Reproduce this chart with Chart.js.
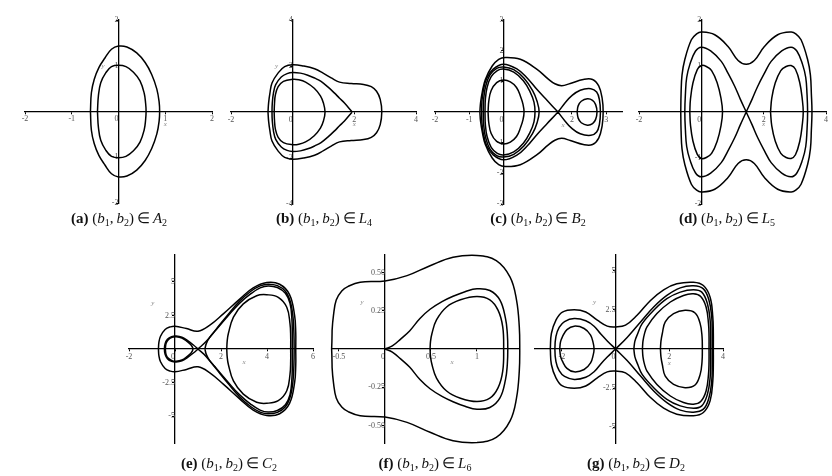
<!DOCTYPE html>
<html>
<head>
<meta charset="utf-8">
<script src="https://cdn.jsdelivr.net/npm/chart.js@4.4.1/dist/chart.umd.min.js"></script>
<style>
  html, body { margin: 0; padding: 0; background: #fff; }
  #page { position: relative; width: 832px; height: 476px; overflow: hidden; }
  #page canvas { position: absolute; }
  .cap { position: absolute; width: 240px; text-align: center; font: 15px "Liberation Serif", serif; color: #111; white-space: nowrap; line-height: 16px; }
  .cap sub { font-size: 10px; line-height: 0; vertical-align: -3px; }
</style>
</head>
<body>
<div id="page"></div>
<script>
// upper halves (y >= 0) of each orbit; the lower half is the mirror image

// (a)
const aOuter = [[-0.60,0],[-0.58,0.41],[-0.52,0.70],[-0.42,0.96],[-0.29,1.17],[-0.15,1.36],[0,1.43],[0.18,1.41],[0.39,1.28],[0.57,1.07],[0.71,0.81],[0.82,0.49],[0.87,0.20],[0.88,0]];
const aInner = [[-0.45,0],[-0.43,0.34],[-0.38,0.63],[-0.27,0.85],[-0.15,0.98],[0,1.01],[0.16,0.98],[0.32,0.86],[0.46,0.67],[0.55,0.40],[0.58,0.18],[0.59,0]];
const aXTicks = [-2,-1,0,1,2], aYTicks = [-2,-1,1,2];

// (b)
const bOuter = [[-0.80,0],[-0.78,0.4],[-0.74,0.8],[-0.67,1.26],[-0.47,1.70],[-0.26,1.97],[0,2.05],[0.35,2.0],[0.71,1.88],[1.0,1.68],[1.25,1.48],[1.52,1.30],[1.9,1.24],[2.3,1.2],[2.55,1.1],[2.72,0.9],[2.84,0.55],[2.89,0]];
const bMid = [[-0.67,0],[-0.66,0.4],[-0.62,0.85],[-0.55,1.19],[-0.37,1.52],[-0.18,1.67],[0,1.72],[0.25,1.69],[0.49,1.6],[0.72,1.47],[0.92,1.33],[1.15,1.08],[1.35,0.83],[1.52,0.6],[1.68,0.39],[1.93,0]];
const bInner = [[-0.60,0],[-0.59,0.35],[-0.56,0.75],[-0.47,1.1],[-0.3,1.33],[0,1.42],[0.2,1.4],[0.42,1.3],[0.7,1.03],[0.9,0.7],[1.0,0.38],[1.05,0]];
const bXTicks = [-2,0,2,4], bYTicks = [-4,-2,2,4];

// (c)
const cOuter = [[-0.69,0],[-0.67,0.3],[-0.62,0.65],[-0.53,1.06],[-0.33,1.5],[-0.14,1.72],[0.05,1.78],[0.49,1.72],[0.98,1.39],[1.3,1.08],[1.5,0.92],[1.7,0.86],[1.95,0.93],[2.33,1.06],[2.6,1.06],[2.78,0.85],[2.88,0.45],[2.91,0]];
const cSepL = [[-0.64,0],[-0.63,0.35],[-0.59,0.7],[-0.49,1.1],[-0.3,1.4],[0,1.56],[0.4,1.40],[0.69,1.11],[0.98,0.73],[1.27,0.38],[1.59,0]];
const cSepR = [[1.59,0],[1.8,0.3],[1.98,0.52],[2.24,0.71],[2.55,0.76],[2.72,0.65],[2.80,0.4],[2.83,0]];
const cL1 = [[-0.59,0],[-0.58,0.4],[-0.53,0.8],[-0.4,1.2],[-0.2,1.42],[0,1.47],[0.3,1.38],[0.6,1.1],[0.85,0.7],[0.98,0.35],[1.04,0]];
const cL2 = [[-0.54,0],[-0.53,0.4],[-0.48,0.8],[-0.36,1.15],[-0.18,1.35],[0,1.40],[0.3,1.3],[0.58,1.02],[0.78,0.65],[0.89,0.32],[0.92,0]];
const cInner = [[-0.45,0],[-0.43,0.35],[-0.36,0.7],[-0.2,0.96],[0,1.04],[0.2,0.98],[0.38,0.8],[0.5,0.5],[0.57,0.25],[0.6,0]];
const cOval = [[2.15,0],[2.18,0.2],[2.27,0.35],[2.45,0.43],[2.6,0.38],[2.69,0.24],[2.73,0]];
const cXTicks = [-2,-1,0,2,3], cYTicks = [-3,-2,-1,1,2,3];

// (d)
const dInL = [[-0.37,0],[-0.35,0.27],[-0.27,0.63],[-0.13,0.92],[0,1.01],[0.16,0.99],[0.33,0.9],[0.51,0.63],[0.63,0.3],[0.68,0]];
const dInR = [[2.22,0],[2.26,0.3],[2.37,0.63],[2.55,0.9],[2.72,0.99],[2.88,1.01],[3.02,0.93],[3.16,0.63],[3.24,0.27],[3.27,0]];
const dSepL = [[-0.53,0],[-0.51,0.4],[-0.47,0.75],[-0.37,1.03],[-0.19,1.32],[0,1.41],[0.3,1.33],[0.64,1.10],[0.85,0.85],[1.07,0.56],[1.25,0.28],[1.44,0]];
const dSepR = [[1.44,0],[1.63,0.28],[1.81,0.56],[2.03,0.85],[2.24,1.10],[2.58,1.33],[2.88,1.41],[3.07,1.32],[3.25,1.03],[3.35,0.75],[3.39,0.4],[3.41,0]];
const dOuter = [[-0.66,0],[-0.65,0.4],[-0.62,0.8],[-0.53,1.14],[-0.32,1.57],[-0.15,1.7],[0,1.74],[0.43,1.68],[0.85,1.43],[1.18,1.12],[1.44,1.04],[1.70,1.12],[2.03,1.43],[2.45,1.68],[2.88,1.74],[3.03,1.7],[3.2,1.57],[3.41,1.14],[3.5,0.8],[3.53,0.4],[3.55,0]];
const dXTicks = [-2,0,2,4], dYTicks = [-2,-1,1,2];

// (e)
const eOuter = [[-0.72,0],[-0.7,0.5],[-0.63,0.95],[-0.43,1.45],[-0.2,1.65],[0,1.7],[0.5,1.52],[1.0,1.33],[1.5,1.76],[2.1,2.62],[2.8,3.7],[3.4,4.55],[3.99,4.95],[4.55,4.82],[4.98,4.05],[5.2,2.5],[5.25,1.2],[5.25,0]];
const eSepL = [[-0.46,0],[-0.43,0.4],[-0.33,0.72],[-0.15,0.92],[0.05,0.97],[0.3,0.88],[0.55,0.62],[0.8,0.3],[1.0,0]];
const eSepR = [[1.0,0],[1.35,0.55],[1.8,1.5],[2.3,2.55],[2.8,3.55],[3.3,4.3],[3.7,4.7],[4.05,4.83],[4.45,4.72],[4.8,4.3],[5.02,3.5],[5.13,2.4],[5.17,1.2],[5.18,0]];
const eIn2 = [[1.3,0],[1.36,0.4],[1.5,0.85],[1.8,1.45],[2.3,2.45],[2.8,3.4],[3.3,4.12],[3.7,4.55],[4.05,4.7],[4.45,4.58],[4.8,4.15],[5.0,3.4],[5.08,2.3],[5.1,1.2],[5.1,0]];
const eInR = [[2.25,0],[2.27,0.6],[2.32,1.15],[2.54,2.38],[2.97,3.36],[3.55,3.97],[3.99,4.04],[4.49,3.85],[4.86,3.11],[5.0,1.89],[5.03,0.9],[5.03,0]];
const eInL = [[-0.42,0],[-0.39,0.4],[-0.3,0.68],[-0.13,0.87],[0.05,0.91],[0.3,0.82],[0.52,0.57],[0.7,0.3],[0.78,0]];
const eXTicks = [-2,0,2,4,6], eYTicks = [-5,-2.5,2.5,5];

// (f)
const fOuter = [[-0.58,0],[-0.575,0.12],[-0.56,0.22],[-0.53,0.32],[-0.47,0.38],[-0.4,0.41],[-0.27,0.437],[0,0.445],[0.24,0.48],[0.49,0.545],[0.74,0.6],[1.0,0.612],[1.21,0.578],[1.36,0.47],[1.43,0.32],[1.46,0.145],[1.465,0]];
const fMid = [[0,0],[0.08,0.02],[0.17,0.065],[0.27,0.12],[0.38,0.2],[0.49,0.26],[0.62,0.31],[0.74,0.345],[0.87,0.375],[1.0,0.394],[1.14,0.383],[1.25,0.32],[1.31,0.2],[1.33,0.1],[1.335,0]];
const fInner = [[0.49,0],[0.495,0.05],[0.51,0.1],[0.56,0.19],[0.67,0.275],[0.82,0.322],[1.0,0.344],[1.14,0.322],[1.23,0.253],[1.28,0.145],[1.29,0]];
const fXTicks = [-0.5,0,0.5,1], fYTicks = [-0.5,-0.25,0.25,0.5];

// (g)
const gOuter = [[-2.43,0],[-2.39,0.99],[-2.22,1.84],[-1.98,2.36],[-1.54,2.51],[-1.11,2.36],[-0.68,1.84],[-0.31,1.46],[0,1.41],[0.37,1.52],[0.80,2.15],[1.30,3.10],[1.79,3.78],[2.28,4.16],[2.90,4.26],[3.27,4.05],[3.52,3.31],[3.62,2.05],[3.64,0.99],[3.64,0]];
const gSepL = [[-2.26,0],[-2.22,0.8],[-2.1,1.38],[-1.9,1.75],[-1.54,1.94],[-1.11,1.8],[-0.8,1.45],[-0.55,0.95],[-0.3,0.5],[0,0]];
const gSepR = [[0,0],[0.43,0.74],[0.93,1.73],[1.42,2.68],[1.91,3.42],[2.41,3.9],[2.9,4.03],[3.27,3.84],[3.48,3.10],[3.58,2.05],[3.6,1.0],[3.6,0]];
const gA = [[0.68,0],[0.72,0.5],[0.83,1.0],[0.99,1.62],[1.42,2.47],[1.91,3.21],[2.41,3.63],[2.9,3.78],[3.21,3.63],[3.42,2.89],[3.52,1.84],[3.54,0.9],[3.54,0]];
const gB = [[1.0,0],[1.02,0.5],[1.08,1.0],[1.17,1.41],[1.54,2.26],[2.04,3.0],[2.53,3.42],[2.9,3.52],[3.17,3.35],[3.37,2.68],[3.46,1.62],[3.48,0.8],[3.48,0]];
const gInR = [[1.67,0],[1.69,0.5],[1.74,0.99],[1.85,1.73],[2.16,2.26],[2.59,2.47],[2.96,2.30],[3.15,1.62],[3.22,0.78],[3.23,0]];
const gInL = [[-2.08,0],[-2.05,0.45],[-1.98,0.78],[-1.81,1.24],[-1.54,1.46],[-1.17,1.31],[-0.93,0.89],[-0.83,0.36],[-0.80,0]];
const gXTicks = [-2,0,2,4], gYTicks = [-5,-2.5,2.5,5];

const mir = ([x,y]) => [x,-y];
const pt = ([x,y]) => ({x, y});
// closed orbit, starting at its left end
function orbit(u){ return u.concat(u.slice(0,-1).reverse().map(mir)).map(pt); }
// closed orbit with a corner at its right end (cusp)
function cuspRight(u){ return u.slice().reverse().concat(u.slice(1).map(mir)).map(pt); }
// figure eight through a saddle: lu runs left end -> saddle, ru saddle -> right end
function eight(lu, ru){
  return lu.slice().reverse()
    .concat(lu.slice(1).map(mir), ru.slice(1), ru.slice(0,-1).reverse().map(mir))
    .map(pt);
}

const axisNames = {
  id: 'axisNames',
  afterDraw(chart, args, opts){
    const {ctx, scales:{x, y}} = chart;
    ctx.save();
    ctx.font = 'italic 7px "Liberation Serif", serif';
    ctx.fillStyle = '#888';
    ctx.textAlign = 'center'; ctx.textBaseline = 'middle';
    (opts.items || []).forEach(([t, dx, dy]) => ctx.fillText(t, x.getPixelForValue(dx), y.getPixelForValue(dy)));
    ctx.restore();
  }
};

const P = 14;
const plain = v => v === 0 ? '0\u2007' : String(v);
const two = v => v.toFixed(2);

const panels = [
  { box:[25,20,212,203], x:[-2,2], y:[-2,2], xt:aXTicks, yt:aYTicks, curves:[orbit(aOuter), orbit(aInner)], names:[['x',1,-0.27],['y',-0.33,1.0]] },
  { box:[231,20,416,204], x:[-2,4], y:[-4,4], xt:bXTicks, yt:bYTicks, curves:[orbit(bOuter), cuspRight(bMid), orbit(bInner)], names:[['x',2,-0.52],['y',-0.52,2.0]] },
  { box:[435,20,622,204], x:[-2,3.46], y:[-3,3], xt:cXTicks, yt:cYTicks, curves:[orbit(cOuter), eight(cSepL,cSepR), orbit(cL1), orbit(cL2), orbit(cInner), orbit(cOval)], names:[['x',1.74,-0.43]] },
  { box:[639,20,826,204], x:[-2,4], y:[-2,2], xt:dXTicks, yt:dYTicks, curves:[orbit(dOuter), eight(dSepL,dSepR), orbit(dInL), orbit(dInR)], names:[['x',2,-0.26]] },
  { box:[129,255,313,443], x:[-2,6], y:[-7,7], xt:eXTicks, yt:eYTicks, curves:[orbit(eOuter), eight(eSepL,eSepR), orbit(eIn2), orbit(eInR), orbit(eInL)], names:[['x',3,-0.96],['y',-0.96,3.4]] },
  { box:[332,255,518,443], x:[-0.576,1.446], y:[-0.615,0.615], xt:fXTicks, yt:fYTicks, yfmt:two, curves:[orbit(fOuter), orbit(fMid), orbit(fInner)], names:[['x',0.73,-0.085],['y',-0.25,0.305]] },
  { box:[535,255,723,443], x:[-3,4], y:[-6,6], xt:gXTicks, yt:gYTicks, curves:[orbit(gOuter), eight(gSepL,gSepR), orbit(gA), orbit(gB), orbit(gInR), orbit(gInL)], names:[['x',2,-0.9],['y',-0.78,2.97]] }
];

function axis(min, max, ticks, fmt, pos){
  return {
    type: 'linear', min, max, position: pos,
    afterBuildTicks: ax => { ax.ticks = ticks.map(v => ({value: v})); },
    grid: { display: true, drawOnChartArea: false, drawTicks: true, tickLength: 2, color: '#000', lineWidth: 1 },
    border: { display: true, color: '#000', width: 1.3 },
    ticks: { autoSkip: false, maxRotation: 0, padding: 1, color: '#555', font: { family: '"Liberation Serif", serif', size: 8 }, callback: v => fmt(v) }
  };
}

const page = document.getElementById('page');
panels.forEach(p => {
  const [L, T, R, B] = p.box;
  const cv = document.createElement('canvas');
  cv.width = R - L + 2*P; cv.height = B - T + 2*P;
  cv.style.left = (L - P) + 'px'; cv.style.top = (T - P) + 'px';
  page.appendChild(cv);
  new Chart(cv.getContext('2d'), {
    type: 'scatter',
    data: { datasets: p.curves.map(c => ({ data: c, showLine: true, borderColor: '#000', borderWidth: 1.5, pointRadius: 0, tension: 0.4, clip: false })) },
    options: {
      responsive: false, animation: false, events: [],
      layout: { padding: P },
      plugins: { legend: { display: false }, tooltip: { enabled: false }, axisNames: { items: p.names } },
      scales: {
        x: axis(p.x[0], p.x[1], p.xt, p.xfmt || plain, { y: 0 }),
        y: axis(p.y[0], p.y[1], p.yt, p.yfmt || plain, { x: 0 })
      }
    },
    plugins: [axisNames]
  });
});

const caps = [
  ['a',119,218,'A','2'], ['b',324,218,'L','4'], ['c',538,218,'B','2'], ['d',727,218,'L','5'],
  ['e',229,463,'C','2'], ['f',425,463,'L','6'], ['g',636,463,'D','2']
];
caps.forEach(([k, cx, cy, set, sub]) => {
  const d = document.createElement('div');
  d.className = 'cap';
  d.style.left = (cx - 120) + 'px'; d.style.top = (cy - 8) + 'px';
  d.innerHTML = `<b>(${k})</b> (<i>b</i><sub>1</sub>,&thinsp;<i>b</i><sub>2</sub>)&thinsp;\u2208&thinsp;<i>${set}</i><sub>${sub}</sub>`;
  page.appendChild(d);
});
</script>
</body>
</html>
